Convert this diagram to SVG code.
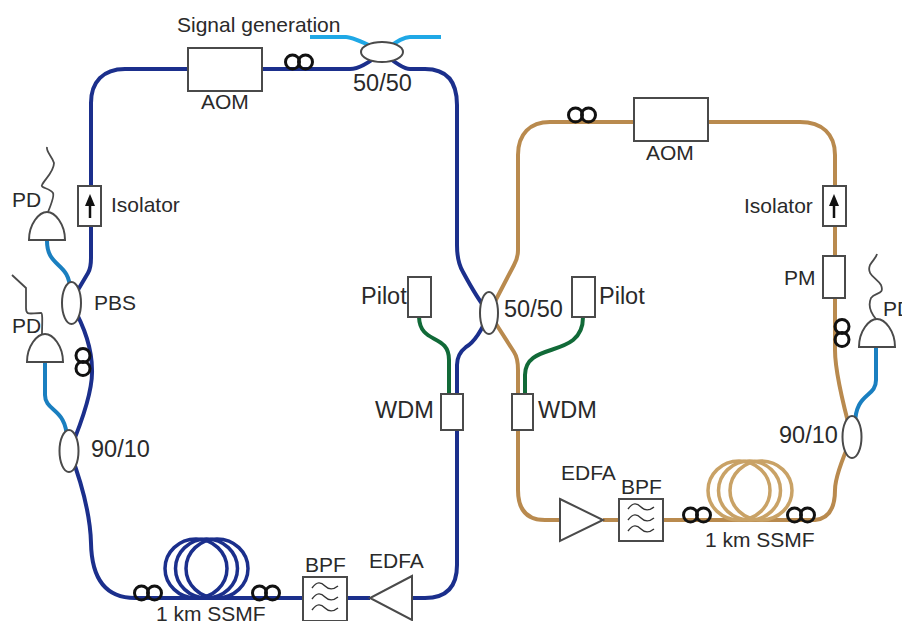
<svg xmlns="http://www.w3.org/2000/svg" width="902" height="621" viewBox="0 0 902 621">
<defs>
<style>
text{font-family:"Liberation Sans",Arial,sans-serif;font-size:21px;fill:#2a2a2a}
.big{font-size:23.500px}
.box{fill:#fff;stroke:#4a4a4a;stroke-width:2}
.blue{fill:none;stroke:#1b2f8c;stroke-width:4}
.brown{fill:none;stroke:#b98a4e;stroke-width:4}
.coilb{fill:none;stroke:#1b2f8c;stroke-width:3.500}
.coilc{fill:none;stroke:#c9a266;stroke-width:3.500}
.green{fill:none;stroke:#116a38;stroke-width:4}
.cyan{fill:none;stroke:#1a7fc0;stroke-width:4}
.sky{fill:none;stroke:#1fa8e6;stroke-width:4}
.wire{fill:none;stroke:#4a4a4a;stroke-width:1.800}
.pad{fill:none;stroke:#111;stroke-width:3}
.wave{fill:none;stroke:#333;stroke-width:1.400}
</style>
<g id="filter-wave">
<path class="wave" d="M-13-11C-8-18-4-17 0-13S8-9 13-13"/>
<path class="wave" d="M-13 0C-8-7-4-6 0-2S8 2 13-2"/>
<path class="wave" d="M-13 11C-8 4-4 5 0 9S8 13 13 9"/>
</g>
<g id="paddle-h"><circle class="pad" cx="-6.500" r="7"/><circle class="pad" cx="6.500" r="7"/></g>
<g id="paddle-v"><circle class="pad" cy="-6.500" r="7"/><circle class="pad" cy="6.500" r="7"/></g>
<g id="pd-shape"><path class="box" d="M0 28C0 12 10 0 18 0C26 0 36 12 36 28Z"/></g>
</defs>
<rect width="902" height="621" fill="#fff"/>
<g id="connectors">
<path class="blue" d="M188 69H125C103 69 91 82 91 103V258Q91 268 88 273L72 300M72 305Q92 340 92 370Q93 395 70 450M70 452Q90 505 91 543Q92 598 135 598H303M347 598H370M412 598H425Q457 598 457 565V365Q457 354 466 347Q478 340 489 313Q478 300 463 272Q457 262 457 245V105Q457 69 425 69H410Q402 69 382 52Q362 69 350 69H262"/>
<ellipse class="coilb" cx="196" cy="568.500" rx="31" ry="29.500"/>
<ellipse class="coilb" cx="206.500" cy="568.500" rx="31" ry="29.500"/>
<ellipse class="coilb" cx="217" cy="568.500" rx="31" ry="29.500"/>
<path class="brown" d="M634 122H550C530 122 518 134 518 155V250Q518 258 514 265L489 313L514 352Q518 358 518 370V490Q518 520 545 520H560M603 520H619M663 520H815Q835 518 835 490Q835 475 852 437Q835 375 835 350V155C835 134 822 122 800 122H708"/>
<ellipse class="coilc" cx="739" cy="490.500" rx="31" ry="29.500"/>
<ellipse class="coilc" cx="749.500" cy="490.500" rx="31" ry="29.500"/>
<ellipse class="coilc" cx="761" cy="490.500" rx="31" ry="29.500"/>
<path class="green" d="M419 317C420 345 449 333 449 360V394"/>
<path class="green" d="M583 317C583 360 525 340 525 375V394"/>
<path class="cyan" d="M47 241C47 268 70 262 70 290"/>
<path class="cyan" d="M45 362V395C45 412 67 408 67 440"/>
<path class="cyan" d="M876 347V380C876 398 855 392 855 425"/>
<path class="sky" d="M310 37H346Q352 37 375 48M441 37H410Q402 37 388 48"/>
<path class="wire" d="M48 212C53 200 54 195 53 193C50 188 40 188 42 185C44 180 54 172 54 163C52 156 46 152 47 147"/>
<path class="wire" d="M42 334C42 325 43 313 41 313C30 313 26 316 26 308V288L12 275"/>
<path class="wire" d="M876 319C870 312 868 305 871 298C875 292 885 295 881 285C877 278 866 275 870 265C873 260 876 258 877 254"/>
</g>
<g id="aom-left"><rect class="box" x="188" y="48" width="74" height="43"/><text x="201" y="109">AOM</text></g>
<g id="signal-label"><text x="177" y="32">Signal generation</text></g>
<g id="coupler-top"><ellipse class="box" cx="382" cy="52" rx="21" ry="10"/><text class="big" x="353" y="91">50/50</text></g>
<g id="pc-1"><use href="#paddle-h" x="299" y="62"/></g>
<g id="isolator-left"><rect class="box" x="78" y="186" width="23" height="40"/><path d="M90 218V205" stroke="#111" stroke-width="2.500"/><path d="M90 194L85 206H95Z" fill="#111"/><text x="111" y="212">Isolator</text></g>
<g id="pd-1"><use href="#pd-shape" x="29" y="212"/><text x="12" y="207">PD</text></g>
<g id="pbs"><ellipse class="box" cx="71.500" cy="303" rx="9.500" ry="21"/><text x="94" y="310">PBS</text></g>
<g id="pd-2"><use href="#pd-shape" x="27" y="334"/><text x="12" y="333">PD</text></g>
<g id="pc-2"><use href="#paddle-v" x="83" y="362"/></g>
<g id="coupler-9010-left"><ellipse class="box" cx="69" cy="451" rx="9.500" ry="21"/><text class="big" x="91" y="457">90/10</text></g>
<g id="pc-3"><use href="#paddle-h" x="148" y="593"/></g>
<g id="pc-4"><use href="#paddle-h" x="266" y="593"/></g>
<g id="ssmf-left"><text x="156" y="621">1 km SSMF</text></g>
<g id="bpf-left"><rect class="box" x="303" y="577" width="44" height="44"/><use href="#filter-wave" x="325" y="599"/><text x="305" y="572">BPF</text></g>
<g id="edfa-left"><path class="box" d="M412 576L370 598L412 620Z"/><text x="369" y="568">EDFA</text></g>
<g id="pilot-left"><rect class="box" x="408" y="277" width="23" height="40"/><text class="big" x="361" y="304">Pilot</text></g>
<g id="wdm-left"><rect class="box" x="441" y="394" width="22" height="36"/><text class="big" x="375" y="418">WDM</text></g>
<g id="coupler-center"><ellipse class="box" cx="489" cy="313" rx="9" ry="21"/><text class="big" x="504" y="317">50/50</text></g>
<g id="pilot-right"><rect class="box" x="572" y="277" width="23" height="40"/><text class="big" x="599" y="304">Pilot</text></g>
<g id="wdm-right"><rect class="box" x="512" y="394" width="21" height="36"/><text class="big" x="538" y="418">WDM</text></g>
<g id="pc-5"><use href="#paddle-h" x="582" y="115"/></g>
<g id="aom-right"><rect class="box" x="634" y="98" width="74" height="43"/><text x="646" y="160">AOM</text></g>
<g id="isolator-right"><rect class="box" x="823" y="186" width="23" height="40"/><path d="M834 218V205" stroke="#111" stroke-width="2.500"/><path d="M834 194L829 206H839Z" fill="#111"/><text x="744" y="213">Isolator</text></g>
<g id="pm"><rect class="box" x="823" y="256" width="22" height="42"/><text x="784" y="285">PM</text></g>
<g id="pc-6"><use href="#paddle-v" x="842" y="333"/></g>
<g id="pd-3"><use href="#pd-shape" x="859" y="319"/><text x="883" y="316">PD</text></g>
<g id="coupler-9010-right"><ellipse class="box" cx="852" cy="437" rx="9.500" ry="21"/><text class="big" x="779" y="443">90/10</text></g>
<g id="edfa-right"><path class="box" d="M560 499L603 520L560 541Z"/><text x="561" y="480">EDFA</text></g>
<g id="bpf-right"><rect class="box" x="619" y="499" width="44" height="42"/><use href="#filter-wave" x="641" y="520"/><text x="621" y="494">BPF</text></g>
<g id="pc-7"><use href="#paddle-h" x="697" y="515"/></g>
<g id="pc-8"><use href="#paddle-h" x="801" y="515"/></g>
<g id="ssmf-right"><text x="705" y="547">1 km SSMF</text></g>
</svg>
